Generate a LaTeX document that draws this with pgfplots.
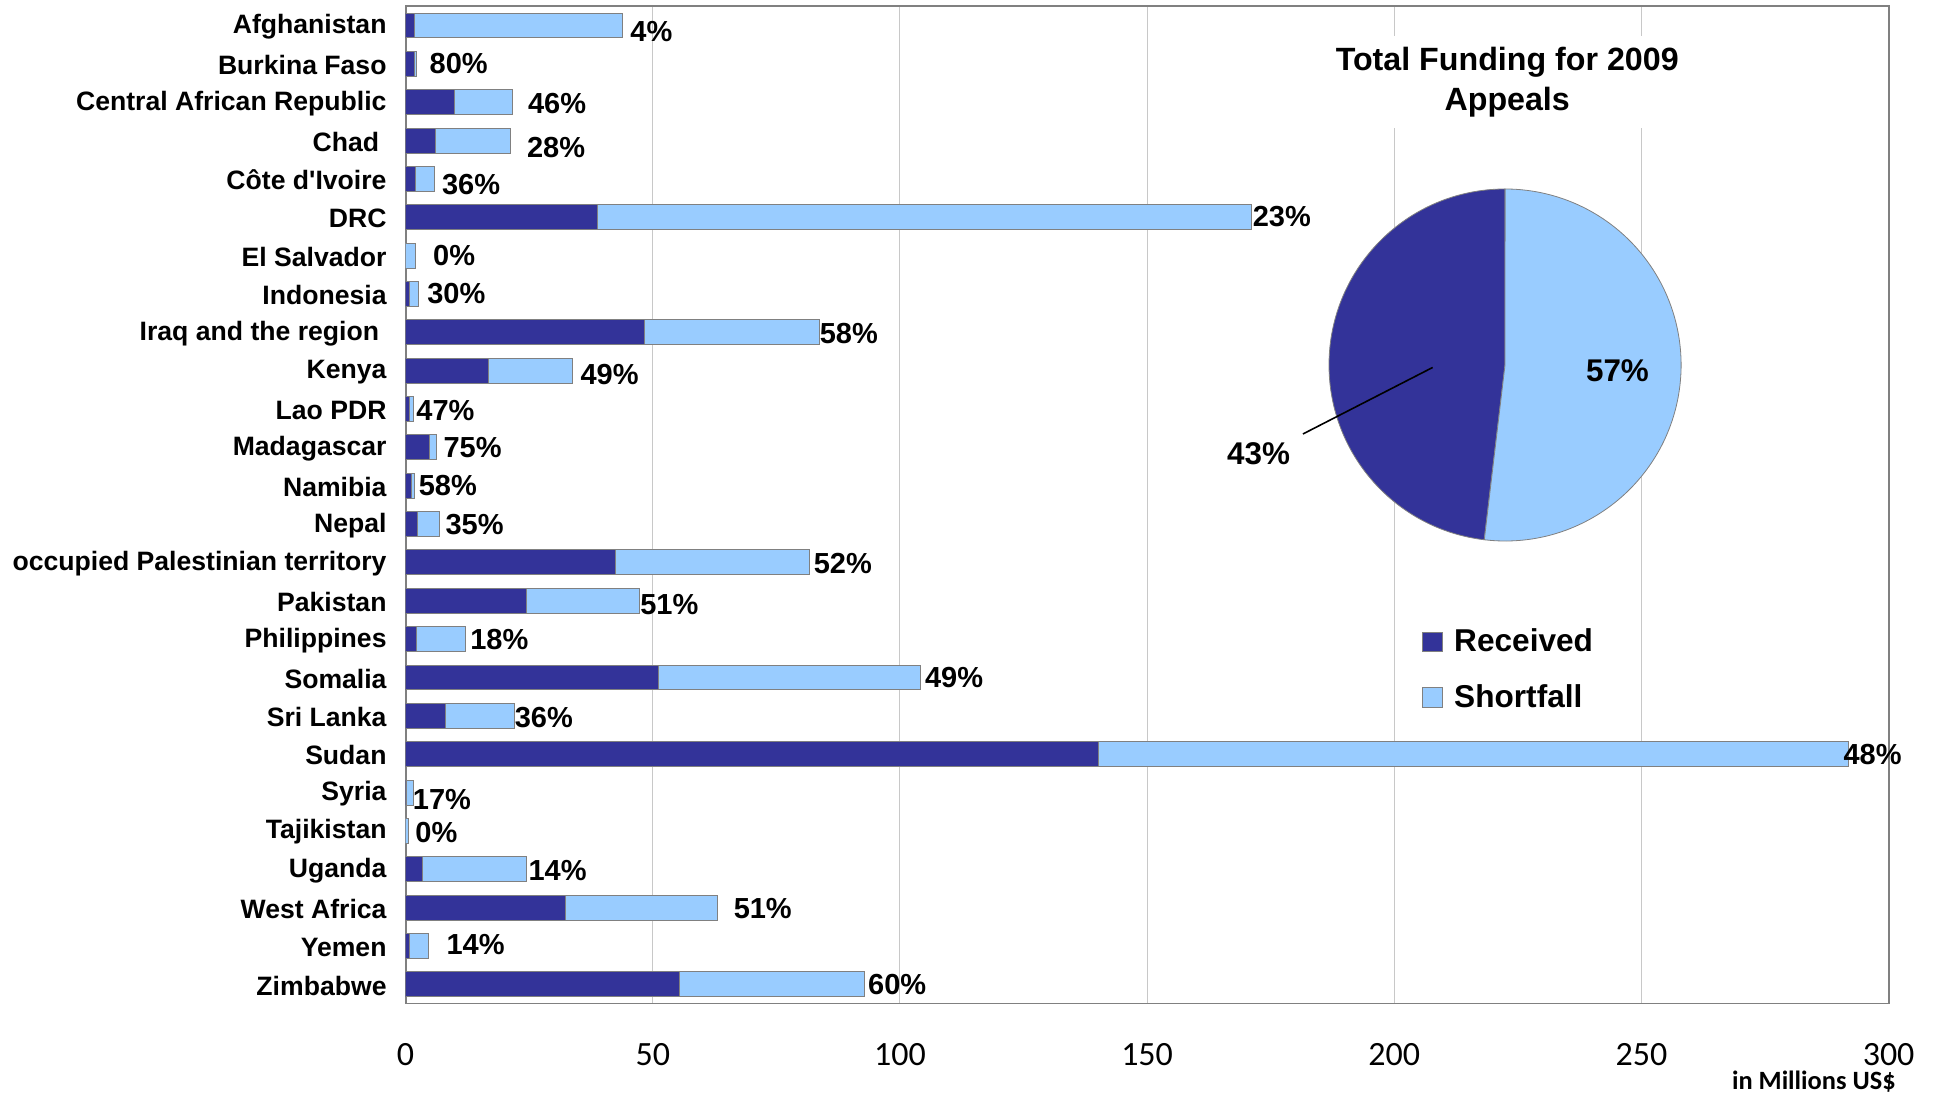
\documentclass[border=0pt]{standalone}
\usepackage{pgfplots}
\pgfplotsset{compat=1.18}
\usepackage{pgfplotstable}
\usepackage{fontspec}
\setmainfont{Liberation Sans}
\newfontfamily\carlito{Carlito}
\newcommand{\sq}{{\addfontfeature{Ligatures=TeXOff}'}}
\definecolor{recv}{HTML}{333399}
\definecolor{short}{HTML}{99CCFF}
\definecolor{framegray}{HTML}{808080}
\definecolor{gridgray}{HTML}{C8C8C8}

\pgfplotstableread{
idx recv short lx ly lab
0 1.8 42.1 45.4 0.15 4
1 1.8 0.4 4.8 1.00 80
2 9.9 11.8 24.7 2.03 46
3 6.0 15.3 24.5 3.17 28
4 2.1 3.7 7.3 4.16 36
5 38.9 132.2 171.3 4.97 23
6 0.0 2.0 5.5 6.00 0
7 0.7 1.9 4.3 7.00 30
8 48.4 35.4 83.7 8.04 58
9 16.7 17.0 35.3 9.11 49
10 0.7 0.9 2.1 10.03 47
11 4.8 1.4 7.6 11.00 75
12 1.1 0.7 2.6 12.00 58
13 2.4 4.5 8.0 13.00 35
14 42.5 39.2 82.5 14.03 52
15 24.4 22.9 47.4 15.11 51
16 2.2 10.0 13.0 16.00 18
17 51.2 53.0 105.0 17.00 49
18 8.0 14.1 22.0 18.04 36
19 140.1 151.7 290.8 19.00 48
20 0.27 1.33 1.4 20.17 17
21 0.0 0.55 1.9 21.03 0
22 3.4 21.1 24.8 22.03 14
23 32.4 30.7 66.3 23.03 51
24 0.7 4.0 8.2 23.95 14
25 55.4 37.4 93.5 25.00 60
}\data

\begin{document}
\begin{tikzpicture}
\useasboundingbox (0,0) rectangle (966.5pt,548pt);
\begin{axis}[
  at={(202.8pt,46.25pt)}, anchor=south west,
  scale only axis, width=741.5pt, height=498.6pt,
  xbar stacked, bar width=0.65,
  xmin=0, xmax=300, ymin=-0.5, ymax=25.5, y dir=reverse,
  ytick={0,...,25},
  yticklabels={Afghanistan,Burkina Faso,Central African Republic,Chad\hspace*{3.7pt},C\^ote d\sq Ivoire,DRC,El Salvador,Indonesia,Iraq and the region\hspace*{3.7pt},Kenya,Lao PDR,Madagascar,Namibia,Nepal,occupied Palestinian territory,Pakistan,Philippines,Somalia,Sri Lanka,Sudan,Syria,Tajikistan,Uganda,West Africa,Yemen,Zimbabwe},
  xtick={0,50,...,300},
  xmajorgrids, grid style={draw=gridgray, line width=0.5pt},
  major tick length=0pt,
  axis line style={draw=framegray, line width=0.9pt},
  yticklabel style={font=\bfseries\fontsize{13.3}{15}\selectfont, xshift=-6pt, yshift=-0.6pt},
  xticklabel style={font=\carlito\fontsize{17}{17}\selectfont, yshift=-16.5pt},
  /pgf/number format/assume math mode=true,
  legend style={at={(axis cs:202.3,15.32)}, anchor=north west, draw=none, fill=white,
    font=\bfseries\fontsize{15.8}{17}\selectfont, row sep=10.8pt, inner xsep=8pt, inner ysep=5.8pt,
    text width=78pt},
  legend cell align=left,
]
\addplot[fill=recv, draw=framegray, line width=0.5pt,
  legend image code/.code={\draw[fill=recv,draw=framegray,line width=0.5pt] (2.5pt,-4.95pt) rectangle (12.4pt,4.95pt); \path (16.1pt,0pt);}]
  table[x=recv, y=idx]{\data};
\addlegendentry{Received}
\addplot[fill=short, draw=framegray, line width=0.5pt,
  legend image code/.code={\draw[fill=short,draw=framegray,line width=0.5pt] (2.5pt,-4.95pt) rectangle (12.4pt,4.95pt); \path (16.1pt,0pt);}]
  table[x=short, y=idx]{\data};
\addlegendentry{Shortfall}
\end{axis}

\begin{axis}[
  at={(202.8pt,46.25pt)}, anchor=south west,
  scale only axis, width=741.5pt, height=498.6pt,
  xmin=0, xmax=300, ymin=-0.5, ymax=25.5, y dir=reverse,
  hide axis, clip=false,
]
\addplot[draw=none, mark=none, point meta=explicit symbolic,
  nodes near coords={\pgfplotspointmeta\%},
  nodes near coords style={anchor=west, inner sep=0pt, font=\bfseries\fontsize{14.5}{14.5}\selectfont}]
  table[x=lx, y=ly, meta=lab]{\data};
\end{axis}

\node[fill=white, inner sep=0pt, minimum width=181.8pt, minimum height=46.3pt, align=center,
  font=\bfseries\fontsize{16.1}{20.3}\selectfont] at (753.6pt,507.0pt) {Total Funding for 2009\\Appeals};

\begin{axis}[
  at={(752.5pt,365.5pt)}, anchor=center,
  scale only axis, width=176pt, height=176pt,
  xmin=-1, xmax=1, ymin=-1, ymax=1,
  hide axis, clip=false,
]
\filldraw[fill=recv, draw=framegray, line width=0.4pt] (axis cs:0,0) -- (axis cs:0,1) arc[start angle=90, end angle=263.2, radius=88pt] -- cycle;
\filldraw[fill=short, draw=framegray, line width=0.4pt] (axis cs:0,0) -- (axis cs:-0.1177,-0.9930) arc[start angle=263.2, end angle=450, radius=88pt] -- cycle;
\draw[black, line width=0.8pt] (axis cs:-1.148,-0.392) -- (axis cs:-0.411,-0.014);
\node[font=\bfseries\fontsize{15.7}{15.7}\selectfont] at (axis cs:-1.40,-0.503) {43\%};
\node[font=\bfseries\fontsize{15.7}{15.7}\selectfont] at (axis cs:0.639,-0.034) {57\%};
\end{axis}

\node[anchor=east, inner sep=0pt, font=\carlito\bfseries\fontsize{13.2}{13.2}\selectfont] at (948pt,7pt) {in Millions US\$};
\end{tikzpicture}
\end{document}
